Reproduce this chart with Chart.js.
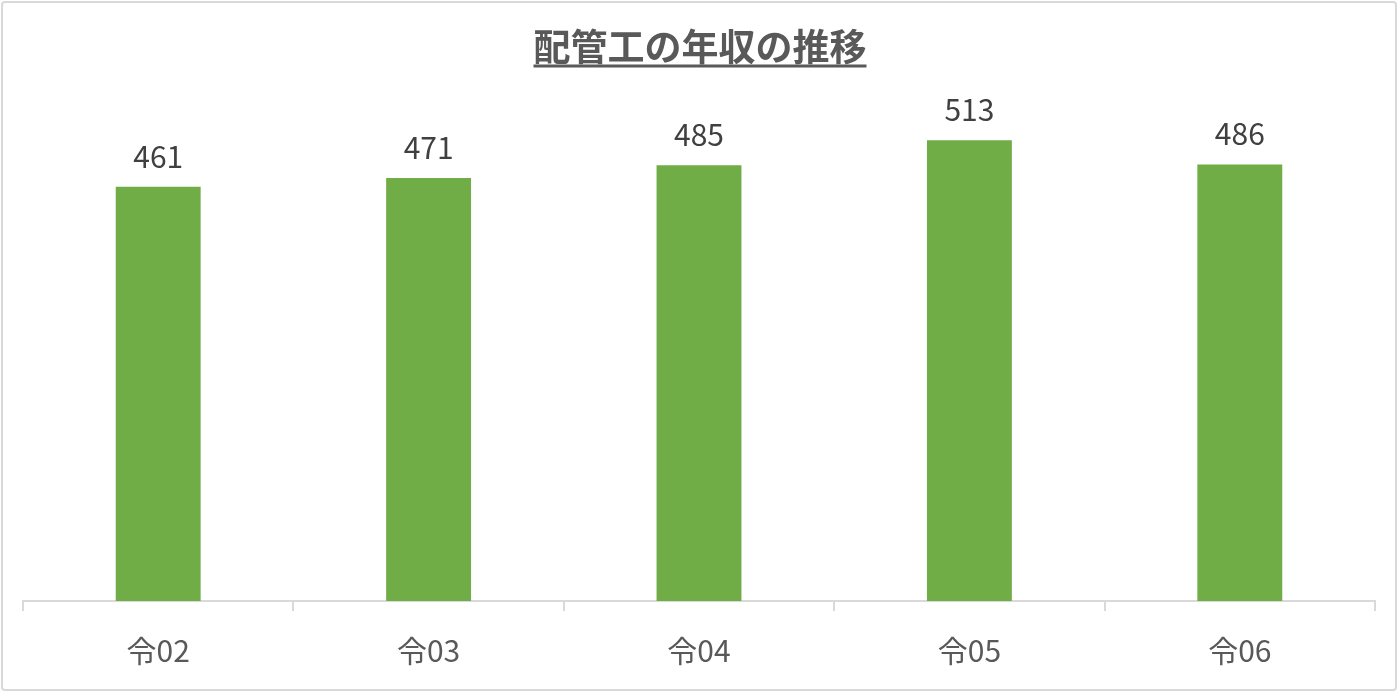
<!DOCTYPE html>
<html>
<head>
<meta charset="utf-8">
<script src="https://cdn.jsdelivr.net/npm/chart.js@4.4.0/dist/chart.umd.min.js"></script>
<style>
  html, body { margin: 0; padding: 0; background: #fff; }
  #wrap { width: 1400px; height: 693px; }
</style>
</head>
<body>
<div id="wrap"><canvas id="myChart" width="1400" height="693"></canvas></div>
<script>
(function () {
    "use strict";

    // data
    var chartTitle = '配管工の年収の推移';
    var years = ['令02', '令03', '令04', '令05', '令06'];
    var income = [461, 471, 485, 513, 486];

    var fontFamily = '"Noto Sans CJK JP", "Noto Sans", sans-serif';

    /* frame, title with underline, value labels */
    var decor = {
        id: 'decor',
        beforeDraw: function (chart) {
            var ctx = chart.ctx;
            ctx.save();
            ctx.fillStyle = '#ffffff';
            ctx.fillRect(0, 0, chart.width, chart.height);
            ctx.strokeStyle = '#d9d9d9';
            ctx.lineWidth = 2;
            ctx.beginPath();
            ctx.roundRect(2, 2, chart.width - 6, chart.height - 5, 3);
            ctx.stroke();
            ctx.restore();
        },
        afterDraw: function (chart) {
            var ctx = chart.ctx;
            ctx.save();
            // title
            ctx.font = 'bold 37px ' + fontFamily;
            ctx.fillStyle = '#595959';
            ctx.textAlign = 'center';
            ctx.textBaseline = 'middle';
            var cx = chart.width / 2;
            ctx.fillText(chartTitle, cx, 47);
            var w = ctx.measureText(chartTitle).width;
            ctx.fillRect(cx - w / 2, 64.5, w, 3);

            // value labels
            ctx.font = '30px ' + fontFamily;
            ctx.fillStyle = '#404040';
            ctx.textBaseline = 'alphabetic';
            chart.getDatasetMeta(0).data.forEach(function (bar, i) {
                ctx.fillText(String(income[i]), bar.x, bar.y - 19);
            });
            ctx.restore();
        }
    };

    var ctx = document.getElementById('myChart').getContext('2d');
    var chart = new Chart(ctx, {
        type: 'bar',
        data: {
            labels: years,
            datasets: [{
                label: '年収',
                data: income,
                backgroundColor: '#70ad47',
                borderWidth: 0,
                categoryPercentage: 1,
                barPercentage: 0.314
            }]
        },
        options: {
            responsive: false,
            animation: false,
            layout: {
                padding: { top: 62, left: 23, right: 25, bottom: 2 }
            },
            plugins: {
                legend: { display: false },
                title: { display: false },
                tooltip: { enabled: false }
            },
            scales: {
                x: {
                    grid: {
                        display: true,
                        drawOnChartArea: false,
                        drawTicks: true,
                        tickLength: 10,
                        color: '#d9d9d9',
                        lineWidth: 2
                    },
                    border: { display: true, color: '#d9d9d9', width: 2 },
                    ticks: {
                        color: '#595959',
                        padding: 22,
                        font: { family: fontFamily, size: 30 }
                    }
                },
                y: {
                    display: false,
                    min: 0,
                    max: 600
                }
            }
        },
        plugins: [decor]
    });
})();
</script>
</body>
</html>
